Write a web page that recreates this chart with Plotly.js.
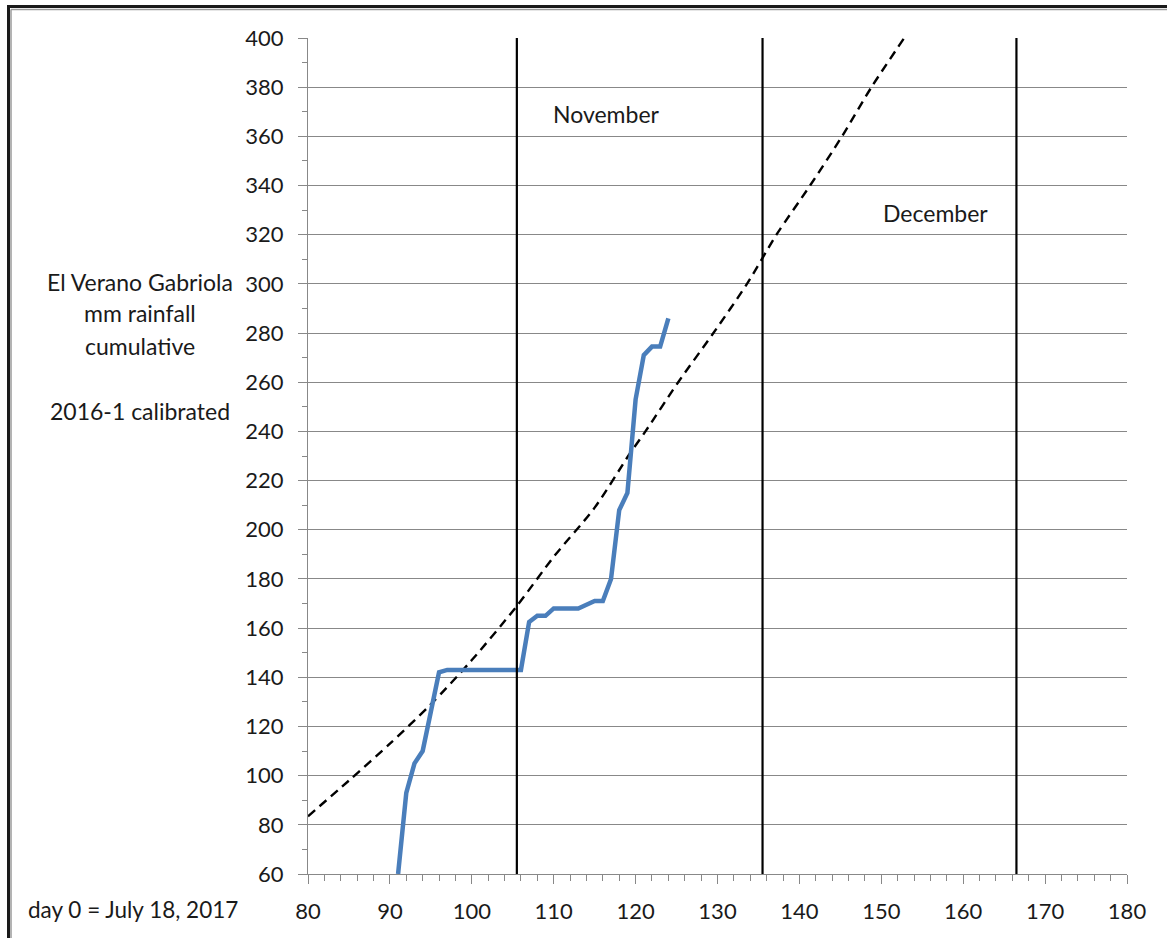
<!DOCTYPE html>
<html>
<head>
<meta charset="utf-8">
<script src="https://cdn.plot.ly/plotly-3.0.1.min.js"></script>
<style>
html,body{margin:0;padding:0;background:#fff;}
#chart{width:1167px;height:938px;}
</style>
</head>
<body>
<div id="chart"></div>
<script>
// Day numbers (day 0 = July 18, 2017)
const rainDays = [91,92,93,94,95,96,97,98,99,100,101,102,103,104,105,106,107,108,109,110,111,112,113,114,115,116,117,118,119,120,121,122,123,124];
// Cumulative rainfall, mm
const rainMm   = [60,93,105,110,126,142,143,143,143,143,143,143,143,143,143,143,162.5,165,165,168,168,168,168,169.5,171,171,180,208,215,253,271,274.5,274.5,286];

// Dashed reference curve
const refDays = [80,85,90,95,100,105.5,110,115,119.3,121.2,125.2,129.5,133.6,137.2,141.3,145.2,148.8,152.8];
const refMm   = [83.5,98,113,129,147,169,189,209,231,240,260,280,300,320,340,360,380,400];

// Month boundaries
const monthLines = [105.5, 135.5, 166.5];
const monthNames = ["November", "December"];
const monthLabelX = [116.5, 156.6];
const monthLabelY = [369, 329];

const titleLines = ["El Verano Gabriola", "mm rainfall", "cumulative", "2016-1 calibrated"];
const titleLineY = [0.708, 0.671, 0.632, 0.554];
const xNote = "day 0 = July 18, 2017";

const FONT = "Lato, 'Open Sans', sans-serif";
const GRID = "#888888";

const traces = [
  {
    x: refDays, y: refMm, mode: "lines", type: "scatter",
    line: {color: "#000000", width: 2.4, dash: "9px,6px", shape: "spline", smoothing: 0.8},
    hoverinfo: "skip", showlegend: false
  },
  {
    x: rainDays, y: rainMm, mode: "lines", type: "scatter",
    line: {color: "#4a7ebb", width: 4.5},
    showlegend: false
  }
];

const shapes = monthLines.map(d => ({
  type: "line", xref: "x", yref: "paper", x0: d, x1: d, y0: 0, y1: 1,
  line: {color: "#000000", width: 2.2}, layer: "above"
}));
// outer frame (left and top edges)
shapes.push({type:"line", xref:"paper", yref:"paper", x0:(8.5-308)/819, x1:(8.5-308)/819, y0:-0.1, y1:1+(38-6.5)/836, line:{color:"#1a1a1a", width:3}});
shapes.push({type:"line", xref:"paper", yref:"paper", x0:(7-308)/819, x1:1.1, y0:1+(38-6.5)/836, y1:1+(38-6.5)/836, line:{color:"#1a1a1a", width:3}});
shapes.push({type:"line", xref:"paper", yref:"paper", x0:(11-308)/819, x1:(11-308)/819, y0:-0.1, y1:1+(38-9.5)/836, line:{color:"#9a9a9a", width:1.5}});
shapes.push({type:"line", xref:"paper", yref:"paper", x0:(11-308)/819, x1:1.1, y0:1+(38-9.5)/836, y1:1+(38-9.5)/836, line:{color:"#9a9a9a", width:1.5}});

const annotations = [];
monthNames.forEach((m, i) => annotations.push({
  text: m, x: monthLabelX[i], y: monthLabelY[i], xref: "x", yref: "y",
  showarrow: false, font: {family: FONT, size: 23, color: "#1a1a1a"}
}));
titleLines.forEach((t, i) => annotations.push({
  text: t, x: (140-308)/819, y: titleLineY[i], xref: "paper", yref: "paper",
  xanchor: "center", yanchor: "middle", showarrow: false,
  font: {family: FONT, size: 23, color: "#1a1a1a"}
}));
annotations.push({
  text: xNote, x: (132.5-308)/819, y: (874-909)/836, xref: "paper", yref: "paper",
  xanchor: "center", yanchor: "middle", showarrow: false,
  font: {family: FONT, size: 22.5, color: "#1a1a1a"}
});

const layout = {
  width: 1167, height: 938,
  margin: {l: 308, r: 40, t: 38, b: 64, pad: 0},
  paper_bgcolor: "#ffffff", plot_bgcolor: "#ffffff",
  showlegend: false,
  font: {family: FONT, size: 22, color: "#1a1a1a"},
  xaxis: {
    range: [80, 180], dtick: 10, tick0: 80, zeroline: false,
    showgrid: false, showline: true, linecolor: GRID, linewidth: 1,
    ticks: "outside", ticklen: 9, tickcolor: GRID, tickwidth: 1,
    ticklabelstandoff: 9,
    minor: {dtick: 2, ticks: "outside", ticklen: 6, tickcolor: GRID, tickwidth: 1, showgrid: false},
    tickfont: {family: FONT, size: 22, color: "#1a1a1a"},
    fixedrange: true
  },
  yaxis: {
    range: [60, 400], dtick: 20, tick0: 60, zeroline: false,
    showgrid: true, gridcolor: GRID, gridwidth: 1,
    showline: true, linecolor: GRID, linewidth: 1,
    ticks: "outside", ticklen: 9, tickcolor: GRID, tickwidth: 1,
    ticklabelstandoff: 10,
    minor: {dtick: 10, ticks: "outside", ticklen: 5, tickcolor: GRID, tickwidth: 1, showgrid: false},
    tickfont: {family: FONT, size: 22, color: "#1a1a1a"},
    fixedrange: true
  },
  shapes: shapes,
  annotations: annotations
};

Plotly.newPlot("chart", traces, layout, {displayModeBar: false, staticPlot: true});
</script>
</body>
</html>
